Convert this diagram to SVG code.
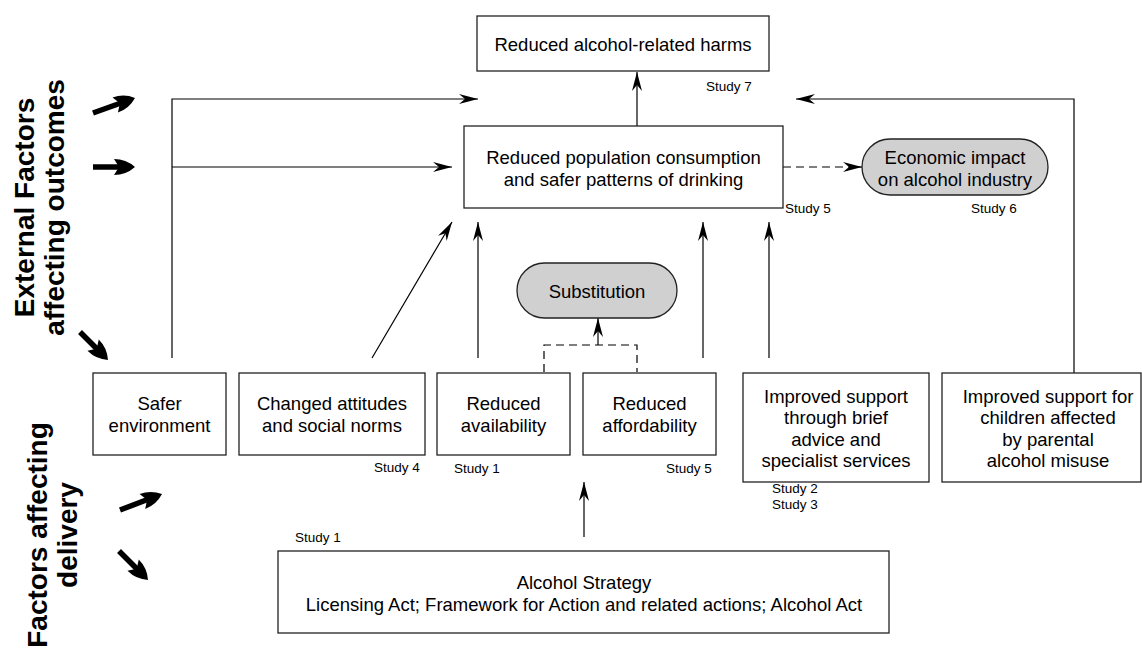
<svg xmlns="http://www.w3.org/2000/svg" width="1142" height="648" viewBox="0 0 1142 648">
<style>
text{font-family:"Liberation Sans",Arial,sans-serif;fill:#000}
.bx{fill:#fff;stroke:#222;stroke-width:1.3}
.pill{fill:#d0d0d0;stroke:#222;stroke-width:1.3}
.t{font-size:18.5px;text-anchor:middle}
.s{font-size:13.5px}
.lab{font-size:28px;font-weight:bold;text-anchor:middle}
.ln{fill:none;stroke:#000;stroke-width:1.2;marker-end:url(#ah)}
.dl{fill:none;stroke:#000;stroke-width:1.2;stroke-dasharray:8,5}
.thick{fill:none;stroke:#000;stroke-width:5.5;marker-end:url(#big)}
</style>
<defs>
<marker id="ah" viewBox="-20 -6 21 12" refX="0" refY="0" markerWidth="21" markerHeight="12" orient="auto" markerUnits="userSpaceOnUse">
<path d="M0,0 L-19,-5 L-13,0 L-19,5 Z" fill="#000"/>
</marker>
<marker id="big" viewBox="-10 -9 23 18" refX="0" refY="0" markerWidth="23" markerHeight="18" orient="auto" markerUnits="userSpaceOnUse">
<path d="M12,0 Q3,-8 -9,-8 L-4,0 L-9,8 Q3,8 12,0 Z" fill="#000"/>
</marker>
</defs>

<g id="labels">
<text class="lab" transform="translate(34,207.5) rotate(-90)">External Factors</text>
<text class="lab" transform="translate(64,207.5) rotate(-90)">affecting outcomes</text>
<text class="lab" transform="translate(47,535) rotate(-90)">Factors affecting</text>
<text class="lab" transform="translate(77,535) rotate(-90)">delivery</text>
</g>

<g id="external-arrows">
<path class="thick" d="M93,113 L123.7,102.0"/>
<path class="thick" d="M93,167 L123,167"/>
<path class="thick" d="M80,332 L99.5,351.5"/>
<path class="thick" d="M120,510 L150.8,498.3"/>
<path class="thick" d="M119,551 L139.5,571.5"/>
</g>

<g id="connectors">
<path class="ln" d="M172,358 V99 H478"/>
<path class="ln" d="M172,167 H452"/>
<path class="ln" d="M372,358 L452,222"/>
<path class="ln" d="M478,358 V222"/>
<path class="ln" d="M703,358 V222"/>
<path class="ln" d="M769,358 V222"/>
<path class="ln" d="M637,126 V72"/>
<path class="ln" d="M1074,373 V99 H796"/>
<path class="ln" d="M584,537 V482"/>
<path class="dl" d="M783,167 H850"/>
<path class="ln" d="M850,167 H862"/>
<path class="dl" d="M544,372 V345 H637 V372"/>
<path class="ln" d="M598,345 V318"/>
</g>

<g id="harms">
<rect class="bx" x="477" y="16" width="292" height="55"/>
<text class="t" x="623" y="50.5">Reduced alcohol-related harms</text>
<text class="s" x="706" y="91">Study 7</text>
</g>

<g id="consumption">
<rect class="bx" x="464" y="126" width="319" height="82"/>
<text class="t" x="623.5" y="163.5">Reduced population consumption</text>
<text class="t" x="623.5" y="185.5">and safer patterns of drinking</text>
<text class="s" x="785" y="213">Study 5</text>
</g>

<g id="economic">
<rect class="pill" x="862" y="139" width="186" height="56" rx="28" ry="28"/>
<text class="t" x="955" y="163.5">Economic impact</text>
<text class="t" x="955" y="185.5">on alcohol industry</text>
<text class="s" x="971" y="213">Study 6</text>
</g>

<g id="substitution">
<rect class="pill" x="517" y="263" width="160" height="55" rx="27.5" ry="27.5"/>
<text class="t" x="597" y="297.5">Substitution</text>
</g>

<g id="safer">
<rect class="bx" x="93" y="373" width="133" height="82"/>
<text class="t" x="159.5" y="410">Safer</text>
<text class="t" x="159.5" y="432">environment</text>
</g>

<g id="attitudes">
<rect class="bx" x="239" y="373" width="186" height="82"/>
<text class="t" x="332" y="410">Changed attitudes</text>
<text class="t" x="332" y="432">and social norms</text>
<text class="s" x="374" y="472">Study 4</text>
</g>

<g id="availability">
<rect class="bx" x="437" y="373" width="133" height="82"/>
<text class="t" x="503.5" y="410">Reduced</text>
<text class="t" x="503.5" y="432">availability</text>
<text class="s" x="454" y="473">Study 1</text>
</g>

<g id="affordability">
<rect class="bx" x="583" y="373" width="133" height="82"/>
<text class="t" x="649.5" y="410">Reduced</text>
<text class="t" x="649.5" y="432">affordability</text>
<text class="s" x="666" y="473">Study 5</text>
</g>

<g id="support">
<rect class="bx" x="743" y="373" width="186" height="109"/>
<text class="t" x="836" y="402.5">Improved support</text>
<text class="t" x="836" y="424">through brief</text>
<text class="t" x="836" y="445.5">advice and</text>
<text class="t" x="836" y="467">specialist services</text>
<text class="s" x="772" y="493">Study 2</text>
<text class="s" x="772" y="509">Study 3</text>
</g>

<g id="children">
<rect class="bx" x="942" y="373" width="199" height="109"/>
<text class="t" x="1048" y="402.5">Improved support for</text>
<text class="t" x="1048" y="424">children affected</text>
<text class="t" x="1048" y="445.5">by parental</text>
<text class="t" x="1048" y="467">alcohol misuse</text>
</g>

<g id="strategy">
<rect class="bx" x="278" y="551" width="611" height="82"/>
<text class="t" x="584" y="588.5">Alcohol Strategy</text>
<text class="t" x="584" y="610.5">Licensing Act; Framework for Action and related actions; Alcohol Act</text>
<text class="s" x="295" y="542">Study 1</text>
</g>
</svg>
